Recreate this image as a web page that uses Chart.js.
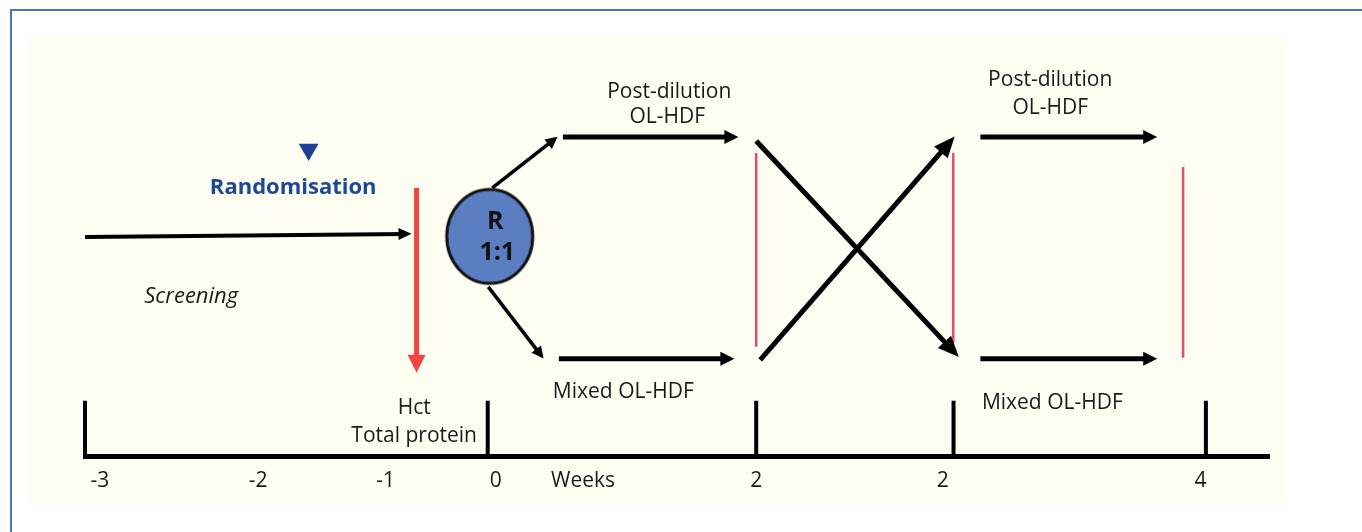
<!DOCTYPE html>
<html>
<head>
<meta charset="utf-8">
<script src="https://cdn.jsdelivr.net/npm/chart.js"></script>
<style>
  html, body { margin: 0; padding: 0; background: #fff; }
  #wrap { position: relative; width: 1362px; height: 532px; }
</style>
</head>
<body>
<div id="wrap"><canvas id="studyChart"></canvas></div>
<script>
// timeline labels (weeks) and where they sit on the x scale
const tickLabels = ['-3', '-2', '-1', '0', 'Weeks', '2', '2', '4'];
const tickPositions = [-2.89, -1.71, -0.76, 0.06, 0.71, 2.0, 3.39, 5.31];

// tall marks standing on the timeline
const markX = [-3, 0, 2.0, 3.47, 5.35];
const markTop = 0.56;

// arrows, as [x, y] start and end
const screeningArrow = [[-3.0, 2.20], [-0.60, 2.23]];
const hctArrow = [[-0.53, 2.69], [-0.53, 0.89]];
const upperSplit = [[0.034, 2.69], [0.50, 3.18]];
const lowerSplit = [[0.004, 1.70], [0.40, 1.01]];
const period1Upper = [[0.56, 3.20], [1.83, 3.20]];
const period1Lower = [[0.53, 0.98], [1.80, 0.98]];
const crossDown = [[2.0, 3.16], [3.48, 1.04]];
const crossUp = [[2.03, 0.97], [3.45, 3.16]];
const period2Upper = [[3.67, 3.20], [4.95, 3.20]];
const period2Lower = [[3.67, 0.98], [4.95, 0.98]];

// thin red lines
const sampleX = [2.0, 3.468, 5.18];
const sampleTop = [3.04, 3.04, 2.90];
const sampleBottom = [1.10, 1.14, 0.99];

// randomisation node and marker
const nodePoint = [0.015, 2.205];
const markerPoint = [-1.334, 3.075];

// texts
const noteText = ['Randomisation', 'Screening', 'Post-dilution', 'OL-HDF', 'Mixed OL-HDF',
  'Post-dilution', 'OL-HDF', 'Mixed OL-HDF', 'Hct', 'Total protein', 'R', '1:1'];
const noteX = [-1.449, -2.209, 1.352, 1.337, 1.01, 4.19, 4.19, 4.206, -0.548, -0.548, 0.056, 0.071];
const noteY = [2.69, 1.60, 3.65, 3.40, 0.65, 3.77, 3.49, 0.54, 0.49, 0.21, 2.35, 2.04];
const noteKind = ['blue', 'italic', 'plain', 'plain', 'plain', 'plain', 'plain', 'plain',
  'plain', 'plain', 'node', 'node'];

const noteStyles = {
  plain: { font: '21px "Open Sans"', color: '#1a1a1a' },
  blue: { font: 'bold 22px "Open Sans"', color: '#1d4797' },
  italic: { font: 'italic 22px "Open Sans"', color: '#1a1a1a' },
  node: { font: 'bold 25px "Open Sans"', color: '#111111' }
};

function toXY(pts) {
  return pts.map(p => ({ x: p[0], y: p[1] }));
}

function arrow(pts, width, color, head) {
  return {
    data: toXY(pts),
    showLine: true,
    borderColor: color,
    borderWidth: width,
    borderCapStyle: 'butt',
    pointRadius: 0,
    clip: false,
    head: head
  };
}

function segments(xs, bottoms, tops) {
  const out = [];
  xs.forEach((x, i) => {
    out.push({ x: x, y: bottoms[i] }, { x: x, y: tops[i] }, { x: x, y: null });
  });
  return out;
}

// ellipse image for the randomisation node
const nodeImg = document.createElement('canvas');
nodeImg.width = 92;
nodeImg.height = 100;
(function () {
  const c = nodeImg.getContext('2d');
  c.beginPath();
  c.ellipse(46, 50, 43, 47, 0, 0, Math.PI * 2);
  c.fillStyle = '#5b7ec2';
  c.fill();
  c.lineWidth = 3;
  c.strokeStyle = '#111';
  c.stroke();
})();

const backdrop = {
  id: 'backdrop',
  beforeDraw(chart) {
    const ctx = chart.ctx;
    ctx.save();
    ctx.fillStyle = '#ffffff';
    ctx.fillRect(0, 0, chart.width, chart.height);
    ctx.strokeStyle = '#4a72b8';
    ctx.lineWidth = 2;
    ctx.strokeRect(11, 10, chart.width, chart.height);
    ctx.fillStyle = '#fdfdf2';
    ctx.fillRect(30, 37, 1256, 468);
    ctx.restore();
  }
};

const arrowHeads = {
  id: 'arrowHeads',
  afterDatasetsDraw(chart) {
    const ctx = chart.ctx;
    chart.data.datasets.forEach((ds, i) => {
      if (!ds.head) return;
      const pts = chart.getDatasetMeta(i).data;
      const a = pts[pts.length - 2];
      const b = pts[pts.length - 1];
      const dx = b.x - a.x, dy = b.y - a.y;
      const len = Math.hypot(dx, dy);
      const ux = dx / len, uy = dy / len;
      const hl = ds.head[0], hw = ds.head[1];
      const ext = ds.borderWidth / 2 * hl / hw;
      const tx = b.x + ux * ext, ty = b.y + uy * ext;
      const bx = tx - ux * hl, by = ty - uy * hl;
      ctx.save();
      ctx.fillStyle = ds.borderColor;
      ctx.beginPath();
      ctx.moveTo(tx, ty);
      ctx.lineTo(bx - uy * hw, by + ux * hw);
      ctx.lineTo(bx + uy * hw, by - ux * hw);
      ctx.closePath();
      ctx.fill();
      ctx.restore();
    });
  }
};

const notes = {
  id: 'notes',
  afterDatasetsDraw(chart) {
    const ctx = chart.ctx;
    const xs = chart.scales.x, ys = chart.scales.y;
    ctx.save();
    ctx.textAlign = 'center';
    ctx.textBaseline = 'middle';
    noteText.forEach((t, i) => {
      const st = noteStyles[noteKind[i]];
      ctx.font = st.font;
      ctx.fillStyle = st.color;
      ctx.fillText(t, xs.getPixelForValue(noteX[i]), ys.getPixelForValue(noteY[i]));
    });
    ctx.restore();
  }
};

const datasets = [
  {
    data: segments(markX, markX.map(() => 0), markX.map(() => markTop)),
    showLine: true, borderColor: '#000', borderWidth: 4, pointRadius: 0, clip: false
  },
  {
    data: segments(sampleX, sampleBottom, sampleTop),
    showLine: true, borderColor: '#e0506e', borderWidth: 2.5, pointRadius: 0, clip: false
  },
  arrow(screeningArrow, 4, '#000000', [13, 6]),
  arrow(hctArrow, 5, '#f44343', [18, 9]),
  arrow(upperSplit, 3.5, '#000000', [12, 6]),
  arrow(lowerSplit, 3.5, '#000000', [12, 6]),
  arrow(period1Upper, 5, '#000000', [14, 7]),
  arrow(period1Lower, 5, '#000000', [14, 7]),
  arrow(crossDown, 5, '#000000', [21, 9]),
  arrow(crossUp, 5, '#000000', [21, 9]),
  arrow(period2Upper, 5, '#000000', [14, 7]),
  arrow(period2Lower, 5, '#000000', [14, 7]),
  {
    data: toXY([nodePoint]),
    pointStyle: nodeImg, pointRadius: 46, clip: false
  },
  {
    data: toXY([markerPoint]),
    pointStyle: 'triangle', rotation: 180, pointRadius: 11.5,
    backgroundColor: '#1f3f96', borderWidth: 0, clip: false
  }
];

new Chart(document.getElementById('studyChart'), {
  type: 'scatter',
  data: { datasets: datasets },
  options: {
    responsive: true,
    maintainAspectRatio: false,
    animation: false,
    devicePixelRatio: 1,
    events: [],
    layout: { autoPadding: false, padding: { left: 85, right: 93, top: 0, bottom: 26 } },
    plugins: { legend: { display: false }, tooltip: { enabled: false } },
    scales: {
      x: {
        type: 'linear',
        min: -3,
        max: 5.82,
        afterBuildTicks: scale => {
          scale.ticks = tickPositions.map(v => ({ value: v }));
        },
        grid: { display: false, drawTicks: false },
        border: { display: true, color: '#000000', width: 5 },
        ticks: {
          autoSkip: false,
          maxRotation: 0,
          minRotation: 0,
          padding: 12,
          color: '#1a1a1a',
          font: { family: 'Open Sans', size: 21 },
          callback: (v, i) => tickLabels[i]
        }
      },
      y: { type: 'linear', display: false, min: 0, max: 4.57 }
    }
  },
  plugins: [backdrop, arrowHeads, notes]
});
</script>
</body>
</html>
